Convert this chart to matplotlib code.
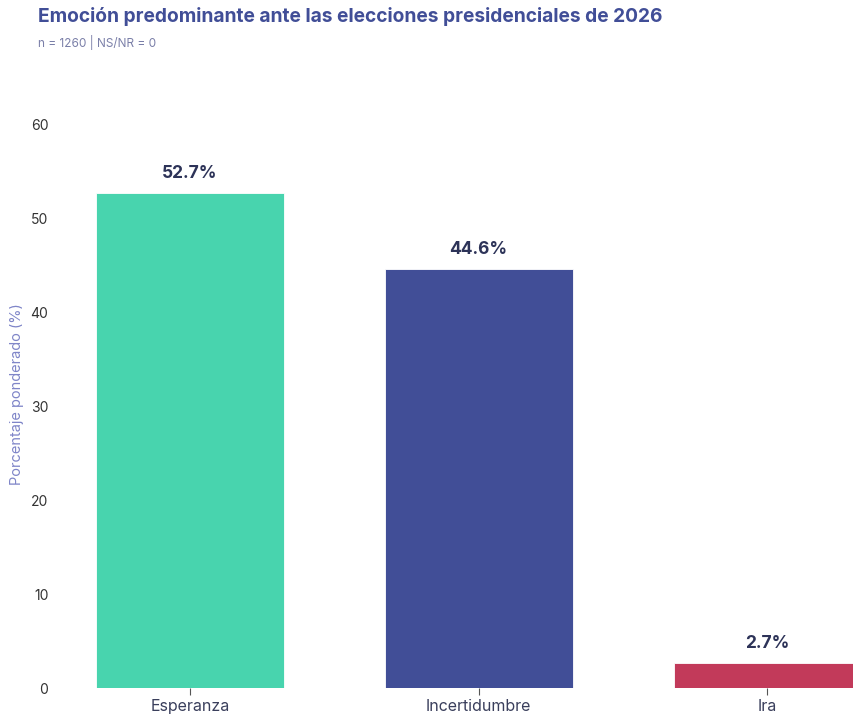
import matplotlib.pyplot as plt

# Data
categories = ["Esperanza", "Incertidumbre", "Ira"]
values = [52.7, 44.6, 2.7]
colors = ["#48d4ae", "#414e97", "#c23a5a"]
y_ticks = [0, 10, 20, 30, 40, 50, 60]

plt.rcParams['font.family'] = ['Inter', 'DejaVu Sans']

fig = plt.figure(figsize=(8.54, 7.17), dpi=100)
ax = fig.add_axes([0.0534, 0.0404, 0.9466, 0.820])

x = list(range(len(categories)))
bars = ax.bar(x, values, width=0.65, color=colors, edgecolor="white", linewidth=0.6)

# Value labels above the bars
for xi, v in zip(x, values):
    ax.annotate("{:.1f}%".format(v), xy=(xi, v), xytext=(0, 8), textcoords="offset points",
                ha="center", va="bottom", fontsize=12.5, fontweight="bold", color="#2d3358")

ax.set_xlim(-0.5, 2.30)
ax.set_ylim(0, 62.55)
ax.set_xticks(x)
ax.set_xticklabels(categories, fontsize=11.5, color="#3a3f5c")
ax.set_yticks(y_ticks)
ax.set_yticklabels([str(t) for t in y_ticks], fontsize=10, color="#333333")
ax.tick_params(axis="x", length=5, color="#555555", pad=3)
ax.tick_params(axis="y", length=0, pad=-2)
for s in ax.spines.values():
    s.set_visible(False)

ax.set_ylabel("Porcentaje ponderado (%)", fontsize=10.5, color="#7f85c8")
ax.yaxis.set_label_coords(-0.027, 0.5)

fig.text(38 / 854, 1 - 17 / 717, "Emoción predominante ante las elecciones presidenciales de 2026",
         ha="left", va="center", fontsize=13.8, fontweight="bold", color="#414e97")
fig.text(38 / 854, 1 - 43 / 717, "n = 1260 | NS/NR = 0",
         ha="left", va="center", fontsize=8.5, color="#7a7fa8")

fig.savefig("out.png", dpi=100)
